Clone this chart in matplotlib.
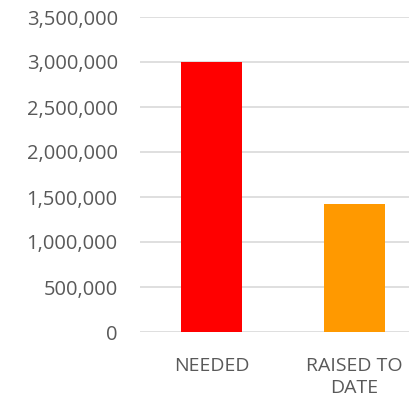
import matplotlib
matplotlib.use("Agg")
import matplotlib.pyplot as plt
from matplotlib.ticker import FuncFormatter

categories = ["NEEDED", "RAISED TO\nDATE"]
values = [3000000, 1420000]
colors = ["#ff0000", "#ff9900"]
yticks = [0, 500000, 1000000, 1500000, 2000000, 2500000, 3000000, 3500000]

plt.rcParams['font.family'] = ['Open Sans', 'DejaVu Sans']
fig = plt.figure(figsize=(4.10, 4.04), dpi=100)
ax = fig.add_axes([140/410, 1 - 332/404, 270/410, 315/404])

x = list(range(len(categories)))
ax.bar(x, values, width=0.427, color=colors, zorder=3)
ax.set_xlim(-0.5, 1.388)
ax.set_ylim(0, 3500000)
ax.set_yticks(yticks)
ax.yaxis.set_major_formatter(FuncFormatter(lambda v, p: f"{int(v):,}"))
ax.set_xticks(x)
ax.set_xticklabels(categories, linespacing=1.3)
ax.grid(axis='y', color='#d9d9d9', linewidth=1.2, zorder=0)
for s in ax.spines.values():
    s.set_visible(False)
ax.tick_params(axis='both', length=0, colors='#595959')
ax.tick_params(axis='y', pad=16, labelsize=14.5)
ax.tick_params(axis='x', pad=18, labelsize=14)
fig.savefig("out.png", dpi=100)
